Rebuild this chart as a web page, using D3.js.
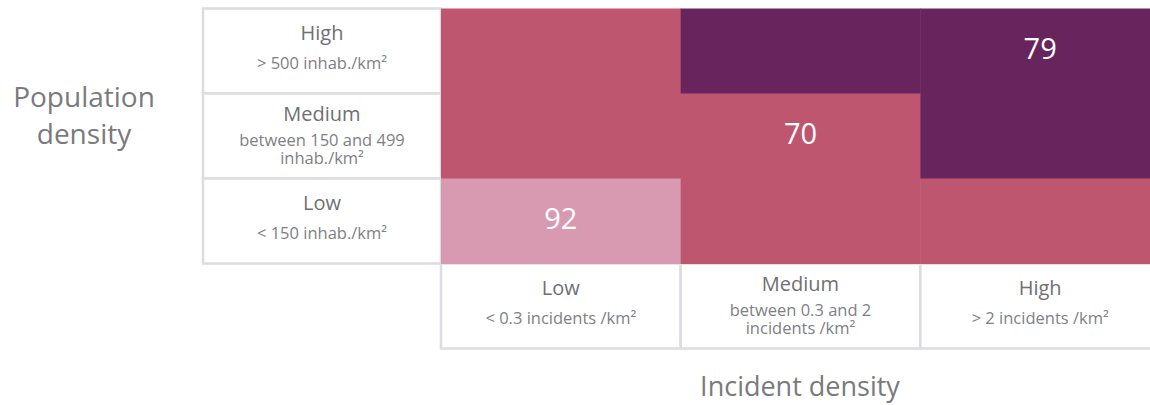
<!DOCTYPE html>
<html>
<head>
<meta charset="utf-8">
<script src="https://cdn.jsdelivr.net/npm/d3@7"></script>
<style>
	body { margin: 0; background: #fff; }
	svg { display: block; font-family: "Open Sans", sans-serif; }
</style>
</head>
<body>
<svg id="chart" width="1150" height="405"></svg>
<script>
// population density rows (top to bottom)
var popCategories = ["High", "Medium", "Low"];
var popRanges = [["> 500 inhab./km²"], ["between 150 and 499", "inhab./km²"], ["< 150 inhab./km²"]];

// incident density columns (left to right)
var incCategories = ["Low", "Medium", "High"];
var incRanges = [["< 0.3 incidents /km²"], ["between 0.3 and 2", "incidents /km²"], ["> 2 incidents /km²"]];

// colour class of each cell, row by row
var levels = [
	[1, 2, 2],
	[1, 1, 2],
	[0, 1, 1]
];
// labelled values
var cellValues = [
	[null, null, 79],
	[null, 70, null],
	[92, null, null]
];
var levelColors = ["#d89ab0", "#be566f", "#68245d"];

var svg = d3.select("#chart");

var x = d3.scaleBand().domain(incCategories).range([441, 1160]);
var y = d3.scaleBand().domain(popCategories).range([8.5, 263.5]);
var labelX = d3.scaleBand().domain(["label"]).range([203, 441]);
var labelY = d3.scaleBand().domain(["label"]).range([263.5, 348.5]);
var color = d3.scaleOrdinal().domain([0, 1, 2]).range(levelColors);

var border = "#dcdce1";
var dark = "#6f6f73";
var light = "#808084";

// row label boxes
var rowBox = svg.selectAll(".rowbox")
	.data(popCategories)
	.enter().append("g")
	.attr("class", "rowbox");

rowBox.append("rect")
	.attr("x", labelX("label"))
	.attr("y", function(d) { return y(d); })
	.attr("width", labelX.bandwidth())
	.attr("height", y.bandwidth())
	.attr("fill", "#fff")
	.attr("stroke", border)
	.attr("stroke-width", 2.5);

// column label boxes
var colBox = svg.selectAll(".colbox")
	.data(incCategories)
	.enter().append("g")
	.attr("class", "colbox");

colBox.append("rect")
	.attr("x", function(d) { return x(d); })
	.attr("y", labelY("label"))
	.attr("width", x.bandwidth())
	.attr("height", labelY.bandwidth())
	.attr("fill", "#fff")
	.attr("stroke", border)
	.attr("stroke-width", 2.5);

// heat cells
var cells = [];
popCategories.forEach(function(p, i) {
	incCategories.forEach(function(c, j) {
		cells.push({pop: p, inc: c, level: levels[i][j], value: cellValues[i][j]});
	});
});

svg.selectAll(".cell")
	.data(cells)
	.enter().append("rect")
	.attr("class", "cell")
	.attr("x", function(d) { return x(d.inc); })
	.attr("y", function(d) { return y(d.pop); })
	.attr("width", x.bandwidth() + 0.5)
	.attr("height", y.bandwidth() + 0.5)
	.attr("fill", function(d) { return color(d.level); });

svg.selectAll(".val")
	.data(cells.filter(function(d) { return d.value != null; }))
	.enter().append("text")
	.attr("class", "val")
	.attr("x", function(d) { return x(d.inc) + x.bandwidth() / 2; })
	.attr("y", function(d) { return y(d.pop) + y.bandwidth() / 2 + 7.5; })
	.attr("text-anchor", "middle")
	.attr("fill", "#fff")
	.style("font-size", "29px")
	.text(function(d) { return d.value; });

// box texts
function boxText(g, title, lines, cx, top) {
	var twoLine = lines.length > 1;
	g.append("text")
		.attr("x", cx)
		.attr("y", top + (twoLine ? 27 : 31))
		.attr("text-anchor", "middle")
		.attr("fill", dark)
		.style("font-size", "20px")
		.style("font-weight", 500)
		.text(title);
	g.append("text")
		.attr("text-anchor", "middle")
		.attr("fill", light)
		.style("font-size", "16.5px")
		.selectAll("tspan")
		.data(lines)
		.enter().append("tspan")
		.attr("x", cx)
		.attr("y", function(d, k) { return twoLine ? top + 52 + k * 18.5 : top + 60; })
		.text(function(d) { return d; });
}

rowBox.each(function(d, i) {
	boxText(d3.select(this), d, popRanges[i], labelX("label") + labelX.bandwidth() / 2, y(d));
});
colBox.each(function(d, i) {
	boxText(d3.select(this), d, incRanges[i], x(d) + x.bandwidth() / 2, labelY("label"));
});

// axis titles
svg.append("text")
	.attr("text-anchor", "middle")
	.attr("fill", "#7a7a7e")
	.style("font-size", "28px")
	.selectAll("tspan")
	.data(["Population", "density"])
	.enter().append("tspan")
	.attr("x", 84)
	.attr("y", function(d, i) { return 107 + i * 37; })
	.text(function(d) { return d; });

svg.append("text")
	.attr("x", 800)
	.attr("y", 396)
	.attr("text-anchor", "middle")
	.attr("fill", "#7a7a7e")
	.style("font-size", "27px")
	.text("Incident density");
</script>
</body>
</html>
